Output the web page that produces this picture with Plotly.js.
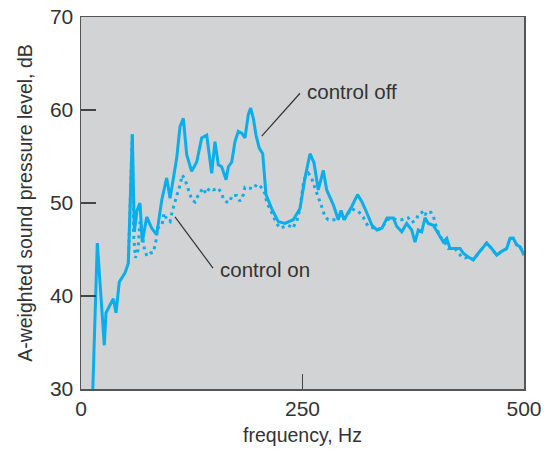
<!DOCTYPE html>
<html>
<head>
<meta charset="utf-8">
<script src="https://cdn.plot.ly/plotly-3.0.1.min.js"></script>
<style>html,body{margin:0;padding:0;background:#fff;}#chart{width:555px;height:450px;}</style>
</head>
<body>
<div id="chart"></div>
<script>
// control off (solid)
var offFreq = [13,18.4,26.3,28.2,36.5,39.5,43.2,49.7,53.4,55.9,57.9,60.2,63.2,66.6,69.2,74.2,79.8,85.4,91.1,96.7,100.5,108.0,111.7,115.5,119.3,124.9,130.6,136.2,141.9,147.5,151.2,155.0,158.8,163.7,166.3,170.1,173.8,177.5,181.4,185.1,188.8,191.5,194.5,197.5,201.2,205.1,208.8,215.2,222.7,230.2,239.6,247.2,252.8,258.5,263.0,267.8,273.5,277.3,284.8,290.4,293.5,296.8,305.5,312.1,317.2,322.8,328.4,334.1,339.7,345.4,352.5,356.3,362.0,367.6,373.2,377.0,380.7,384.5,388.3,392.0,397.6,405.2,408.9,412.8,416.5,427.8,431.5,437.1,442.8,448.4,452.3,457.9,463.5,469.2,474.8,480.5,484.2,487.9,491.8,495.5,500];
var offDb = [29,45.7,34.7,38.2,39.7,38.2,41.5,42.5,43.5,50.3,57.4,46.9,49.2,50.0,45.8,48.5,47.3,46.6,50.3,52.7,50.5,54.8,58.2,59.1,55.2,53.4,54.4,57.0,57.3,53.2,56.6,54.1,53.9,52.5,53.9,54.4,56.6,57.7,57.5,57.0,59.5,60.2,59.1,57.3,55.9,55.3,50.9,49.4,48.0,47.8,48.2,49.4,52.7,55.3,54.3,51.4,53.5,51.4,49.8,48.2,49.2,48.2,49.6,50.9,50.1,48.9,47.6,47.1,47.3,48.4,48.4,47.5,46.9,47.8,47.1,45.8,47.1,46.9,48.4,47.8,47.6,46.4,45.8,46.2,45.1,45.1,44.6,44.2,43.9,44.6,45.1,45.7,45.1,44.4,44.8,45.1,46.2,46.2,45.5,45.3,44.4];
// control on (dotted)
var onFreq = [53.4,55.9,57.9,59.3,61.5,64.3,66.6,68.8,71.7,74.5,77.9,81.8,84.7,86.3,91.4,93.7,97.1,100.5,102.7,107.2,111.7,114.3,117.4,121.3,125.3,128.7,132.1,137.7,141.0,145.0,149.3,155.0,158.8,160.6,164.4,168.2,170.1,175.7,179.5,183.2,185.1,190.7,194.5,198.3,202.0,203.9,207.7,209.6,213.3,217.0,220.9,224.6,230.2,234.0,239.6,241.5,243.5,247.2,250.9,252.8,256.6,260.4,262.2,266.0,267.8,269.8,271.7,273.5,275.4,279.1,284.8,288.6,293.5,296.8,305.5,309.3,313.0,318.6,320.5,324.3,328.1,334.1,339.7,345.4,352.5,356.3,362.0,369.4,373.2,378.9,380.0,382.7,386.5,388.4,390.3,395.0,397.6,399.5,401.4,405.2,410.8,412.8,414.6,422.1,425.9,429.7,433.4,437.1,442.8,448.4,452.3,457.9,463.5,469.2,474.8,480.5,484.2,487.9,491.8,495.5,500];
var onDb = [43.5,50.3,57.4,46.6,44.1,44.9,48.0,46.9,44.9,44.3,44.6,44.7,46.0,47.3,47.6,48.9,48.2,48.0,49.0,50.5,51.9,53.0,52.5,51.4,50.3,50.1,50.8,51.6,51.0,51.6,51.4,51.6,51.0,50.5,50.1,50.1,50.8,50.8,50.2,50.9,51.7,51.6,51.5,52.0,51.9,51.6,51.0,50.1,49.4,48.7,47.8,47.3,47.5,47.6,47.3,47.8,48.0,49.4,52.1,52.7,53.2,52.7,52.1,51.0,50.5,50.1,49.6,49.1,48.5,48.2,48.2,48.2,49.0,48.2,49.4,49.2,49.1,48.5,48.0,47.5,47.4,47.1,47.3,48.2,48.3,48.2,48.2,48.4,47.9,48.2,48.7,48.9,49.1,48.7,49.1,49.0,48.6,48.0,47.3,46.4,45.8,45.3,45.1,45.1,44.6,44.2,44.1,44.2,43.9,44.6,45.1,45.7,45.1,44.4,44.8,45.1,46.2,46.2,45.5,45.3,44.4];

var xTicks = [0, 250, 500];
var yTicks = [30, 40, 50, 60, 70];
var labelOff = "control off";
var labelOn = "control on";

var lineColor = "#0aaeea";
var textColor = "#333333";
var fontFam = "Liberation Sans, Arial, sans-serif";

var traces = [
  {x: onFreq, y: onDb, type: "scatter", mode: "lines", name: labelOn,
   line: {color: lineColor, width: 3, dash: "3px,4px"}, hoverinfo: "skip"},
  {x: offFreq, y: offDb, type: "scatter", mode: "lines", name: labelOff,
   line: {color: lineColor, width: 3}, hoverinfo: "skip"}
];

var layout = {
  width: 555, height: 450,
  margin: {l: 81, r: 31, t: 17, b: 61},
  paper_bgcolor: "#ffffff",
  plot_bgcolor: "#d2d3d5",
  showlegend: false,
  font: {family: fontFam, color: textColor, size: 21},
  xaxis: {
    range: [0, 500], tickvals: xTicks, ticktext: xTicks.map(String),
    ticks: "inside", ticklen: 15, tickwidth: 1.5, tickcolor: "#444",
    showline: true, linecolor: "#555", linewidth: 1.5, mirror: true,
    showgrid: false, zeroline: false,
    tickfont: {size: 21, color: textColor, family: fontFam},
    title: {text: "frequency, Hz", font: {size: 19.5, color: textColor, family: fontFam}, standoff: 9}
  },
  yaxis: {
    range: [30, 70], tickvals: yTicks, ticktext: yTicks.map(String),
    ticks: "inside", ticklen: 15, tickwidth: 1.5, tickcolor: "#444",
    showline: true, linecolor: "#555", linewidth: 1.5, mirror: true,
    showgrid: false, zeroline: false,
    tickfont: {size: 21, color: textColor, family: fontFam},
    ticklabelstandoff: 2,
    title: {text: "A-weighted sound pressure level, dB", font: {size: 19.5, color: textColor, family: fontFam}, standoff: 12}
  },
  shapes: [
    {type: "line", xref: "x", yref: "y", x0: 247.2, y0: 61.8, x1: 204.0, y1: 57.2, line: {color: "#333", width: 1.2}},
    {type: "line", xref: "x", yref: "y", x0: 106.1, y0: 48.5, x1: 149.0, y1: 43.0, line: {color: "#333", width: 1.2}}
  ],
  annotations: [
    {x: 253, y: 62.0, xref: "x", yref: "y", text: labelOff, showarrow: false, xanchor: "left", yanchor: "middle",
     font: {size: 20.5, color: textColor, family: fontFam}},
    {x: 155, y: 42.8, xref: "x", yref: "y", text: labelOn, showarrow: false, xanchor: "left", yanchor: "middle",
     font: {size: 20.5, color: textColor, family: fontFam}}
  ]
};

Plotly.newPlot("chart", traces, layout, {staticPlot: true, displayModeBar: false});
</script>
</body>
</html>
